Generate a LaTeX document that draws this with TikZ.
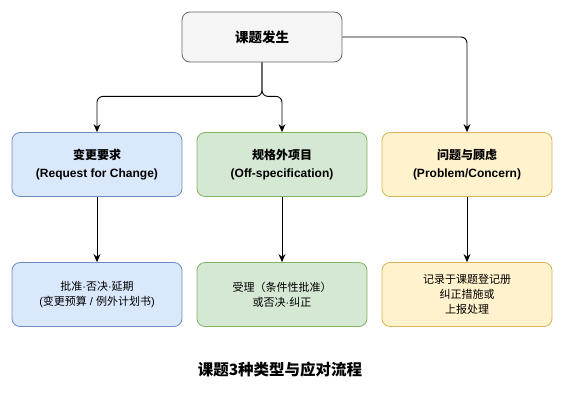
\documentclass[tikz,border=0pt]{standalone}
\usepackage{fontspec}
\setmainfont{Liberation Sans}
\newfontfamily\cjk{Noto Sans CJK SC}
\usetikzlibrary{arrows.meta}
\definecolor{greyfill}{HTML}{F5F5F5}
\definecolor{greyline}{HTML}{666666}
\definecolor{bluefill}{HTML}{DAE8FC}
\definecolor{blueline}{HTML}{6C8EBF}
\definecolor{greenfill}{HTML}{D5E8D4}
\definecolor{greenline}{HTML}{82B366}
\definecolor{yellowfill}{HTML}{FFF2CC}
\definecolor{yellowline}{HTML}{D6B656}
\begin{document}
\begin{tikzpicture}[x=1pt,y=-1pt,every text node part/.style={align=center},
	box/.style={draw,rounded corners=8pt,line width=0.8pt,minimum width=170pt,minimum height=64pt,inner sep=2pt},
	typebox/.style={box,font=\fontsize{12}{18.5}\selectfont\bfseries},
	actbox/.style={box,font=\fontsize{11}{15}\selectfont},
	arr/.style={-{Stealth[length=8pt,width=7pt]},line width=0.9pt,rounded corners=6pt}]
		\useasboundingbox (0,0) rectangle (564,404);
		%start
		\node[box,fill=greyfill,draw=greyline,minimum width=160pt,minimum height=50pt,font=\fontsize{13.5}{16}\selectfont\bfseries] (event) at (262,37) {\cjk 课题发生};
		
		%types
		\node[typebox,fill=bluefill,draw=blueline] (rfc) at (97,164.5) {{\cjk 变更要求}\\(Request for Change)};
		\node[typebox,fill=greenfill,draw=greenline] (offspec) at (282,164.5) {{\cjk 规格外项目}\\(Off-specification)};
		\node[typebox,fill=yellowfill,draw=yellowline] (issue) at (467,164.5) {{\cjk 问题与顾虑}\\(Problem/Concern)};
		
		%handling
		\node[actbox,fill=bluefill,draw=blueline] (rfcact) at (97,294.5) {{\cjk 批准}·{\cjk 否决}·{\cjk 延期}\\({\cjk 变更预算} / {\cjk 例外计划书})};
		\node[actbox,fill=greenfill,draw=greenline] (offact) at (282,294.5) {{\cjk 受理（条件性批准）}\\{\cjk 或否决}·{\cjk 纠正}};
		\node[actbox,fill=yellowfill,draw=yellowline] (issueact) at (467,294.5) {{\cjk 记录于课题登记册}\\{\cjk 纠正措施或}\\{\cjk 上报处理}};
		
		\node[font=\fontsize{15.5}{18}\selectfont\bfseries] (title) at (280,370) {\cjk 课题3种类型与应对流程};
		
		%connectors
		\draw[arr] (event.south) -- ++(0,34) -| (rfc.north);
		\draw[arr] (event.south) -- ++(0,34) -| (offspec.north);
		\draw[arr] (event.east) -| (issue.north);
		\draw[arr] (rfc.south) -- (rfcact.north);
		\draw[arr] (offspec.south) -- (offact.north);
		\draw[arr] (issue.south) -- (issueact.north);
		
\end{tikzpicture}
\end{document}
